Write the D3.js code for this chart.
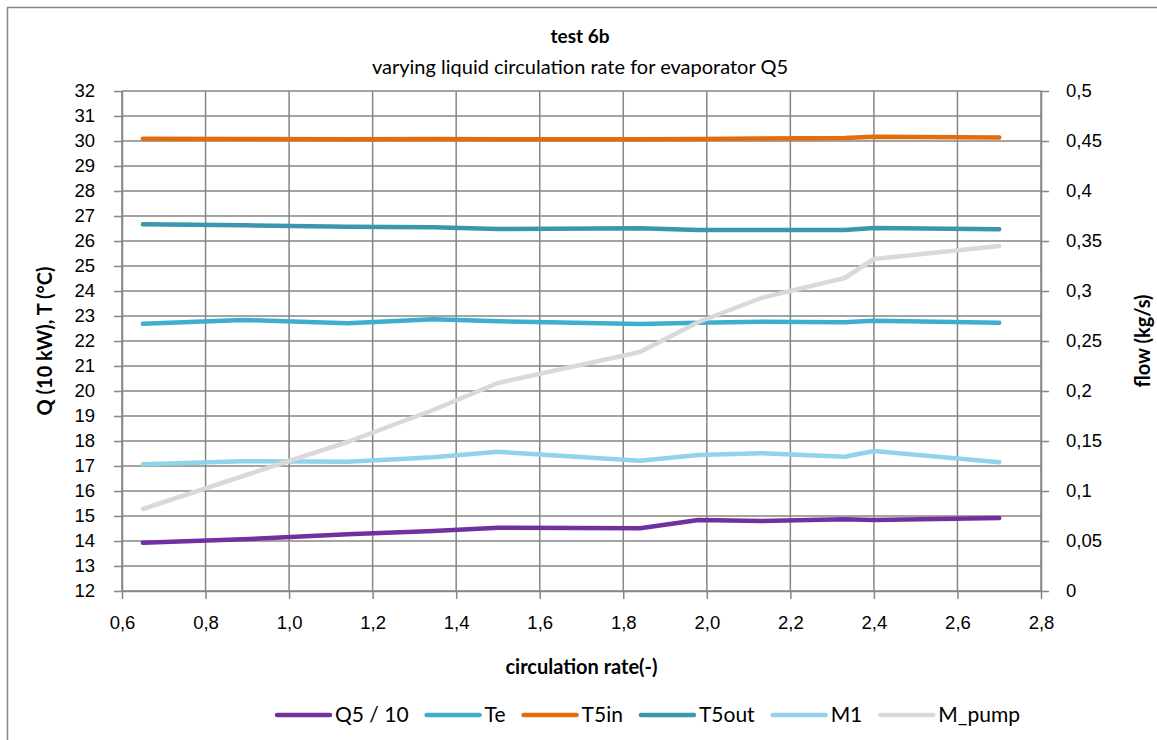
<!DOCTYPE html>
<html>
<head>
<meta charset="utf-8">
<script src="https://cdn.jsdelivr.net/npm/d3@7"></script>
<style>
  body { margin: 0; background: #fff; }
  svg { font-family: Lato, "Open Sans", sans-serif; }
  .grid line { stroke: #868686; stroke-width: 1.5; }
  .axis path, .axis line { stroke: #868686; stroke-width: 1.5; }
  .axis text { font-size: 18.5px; fill: #000; }
</style>
</head>
<body>
<svg width="1157" height="740"></svg>
<script>
// data
var rates = [0.65, 0.89, 1.14, 1.345, 1.5, 1.84, 1.98, 2.13, 2.33, 2.40, 2.70];
var q5    = [13.93, 14.07, 14.27, 14.40, 14.53, 14.51, 14.84, 14.80, 14.87, 14.84, 14.92];
var te    = [22.69, 22.84, 22.71, 22.87, 22.79, 22.68, 22.73, 22.77, 22.75, 22.81, 22.73];
var t5in  = [30.09, 30.08, 30.07, 30.08, 30.07, 30.07, 30.08, 30.10, 30.12, 30.17, 30.14];
var t5out = [26.67, 26.63, 26.57, 26.55, 26.48, 26.51, 26.44, 26.44, 26.44, 26.52, 26.47];
var m1    = [17.07, 17.19, 17.17, 17.35, 17.57, 17.21, 17.44, 17.51, 17.37, 17.60, 17.15];
var mpump = [0.082, 0.115, 0.149, 0.181, 0.208, 0.239, 0.269, 0.293, 0.313, 0.332, 0.345];

var xTicks  = [0.6, 0.8, 1.0, 1.2, 1.4, 1.6, 1.8, 2.0, 2.2, 2.4, 2.6, 2.8];
var yTicks  = d3.range(12, 33, 1);
var y2Ticks = [0, 0.05, 0.1, 0.15, 0.2, 0.25, 0.3, 0.35, 0.4, 0.45, 0.5];

var seriesNames  = ["Q5 / 10", "Te", "T5in", "T5out", "M1", "M_pump"];
var seriesColors = ["#7030a0", "#3daecf", "#e46c0a", "#3c96ae", "#8fd4ea", "#d9d9d9"];

var svg = d3.select("svg"),
    pLeft = 122, pRight = 1041, pTop = 91, pBottom = 591;

// chart border (right and bottom sides fall outside the picture)
svg.append("rect")
   .attr("x", 7.5).attr("y", 7.5)
   .attr("width", 1300).attr("height", 800)
   .attr("fill", "none")
   .attr("stroke", "#868686")
   .attr("stroke-width", 1.5);

var x  = d3.scaleLinear().domain([0.6, 2.8]).range([pLeft, pRight]),
    y  = d3.scaleLinear().domain([12, 32]).range([pBottom, pTop]),
    y2 = d3.scaleLinear().domain([0, 0.5]).range([pBottom, pTop]);

var comma = function(f) { return function(d) { return f(d).replace(".", ","); }; };

// gridlines
svg.append("g").attr("class", "grid")
   .selectAll("line").data(yTicks).enter().append("line")
   .attr("x1", pLeft).attr("x2", pRight)
   .attr("y1", function(d) { return y(d); })
   .attr("y2", function(d) { return y(d); });
svg.append("g").attr("class", "grid")
   .selectAll("line").data(xTicks).enter().append("line")
   .attr("y1", pTop).attr("y2", pBottom)
   .attr("x1", function(d) { return x(d); })
   .attr("x2", function(d) { return x(d); });

// axes
svg.append("g").attr("class", "axis")
   .attr("transform", "translate(0," + pBottom + ")")
   .call(d3.axisBottom(x).tickValues(xTicks).tickSizeInner(8).tickSizeOuter(0)
         .tickPadding(17).tickFormat(comma(d3.format(".1f"))));

svg.append("g").attr("class", "axis")
   .attr("transform", "translate(" + pLeft + ",0)")
   .call(d3.axisLeft(y).tickValues(yTicks).tickSizeInner(8).tickSizeOuter(0)
         .tickPadding(19).tickFormat(d3.format("d")));

svg.append("g").attr("class", "axis")
   .attr("transform", "translate(" + pRight + ",0)")
   .call(d3.axisRight(y2).tickValues(y2Ticks).tickSizeInner(8).tickSizeOuter(0)
         .tickPadding(17).tickFormat(function(d) { return String(d).replace(".", ","); }));

// lines
var leftSeries = [q5, te, t5in, t5out, m1];
var line = d3.line()
    .x(function(d, i) { return x(rates[i]); })
    .y(function(d) { return y(d); });
var line2 = d3.line()
    .x(function(d, i) { return x(rates[i]); })
    .y(function(d) { return y2(d); });

leftSeries.forEach(function(s, k) {
    svg.append("path")
       .attr("d", line(s))
       .attr("fill", "none")
       .attr("stroke", seriesColors[k])
       .attr("stroke-width", 4.5)
       .attr("stroke-linecap", "round")
       .attr("stroke-linejoin", "round");
});
svg.append("path")
   .attr("d", line2(mpump))
   .attr("fill", "none")
   .attr("stroke", seriesColors[5])
   .attr("stroke-width", 4.5)
   .attr("stroke-linecap", "round")
   .attr("stroke-linejoin", "round");

// titles
svg.append("text")
   .attr("x", 580).attr("y", 43)
   .attr("text-anchor", "middle")
   .style("font-size", "19px").style("font-weight", "bold")
   .text("test 6b");
svg.append("text")
   .attr("x", 580).attr("y", 74)
   .attr("text-anchor", "middle")
   .style("font-size", "20px")
   .text("varying liquid circulation rate for evaporator Q5");

svg.append("text")
   .attr("x", (pLeft + pRight) / 2).attr("y", 674)
   .attr("text-anchor", "middle")
   .style("font-size", "20px").style("font-weight", "bold")
   .text("circulation rate(-)");

svg.append("text")
   .attr("transform", "translate(52," + ((pTop + pBottom) / 2) + ") rotate(-90)")
   .attr("text-anchor", "middle")
   .style("font-size", "20px").style("font-weight", "bold")
   .text("Q (10 kW), T (°C)");

svg.append("text")
   .attr("transform", "translate(1150," + ((pTop + pBottom) / 2) + ") rotate(-90)")
   .attr("text-anchor", "middle")
   .style("font-size", "20px").style("font-weight", "bold")
   .text("flow (kg/s)");

// legend
var lx = 277, ly = 715;
seriesNames.forEach(function(name, k) {
    svg.append("line")
       .attr("x1", lx).attr("x2", lx + 53)
       .attr("y1", ly).attr("y2", ly)
       .attr("stroke", seriesColors[k])
       .attr("stroke-width", 4.5)
       .attr("stroke-linecap", "round");
    var t = svg.append("text")
       .attr("x", lx + 58).attr("y", ly + 7)
       .style("font-size", "21px")
       .text(name);
    lx += 58 + t.node().getComputedTextLength() + 18;
});
</script>
</body>
</html>
